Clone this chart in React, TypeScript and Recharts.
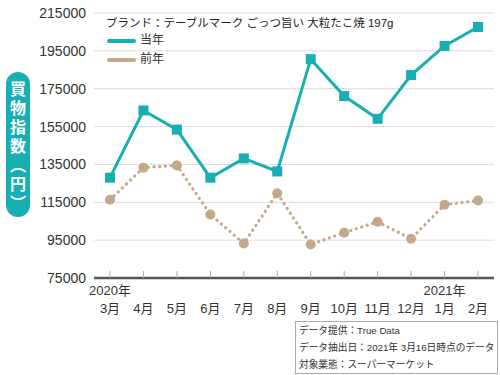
import React from "react";
import { LineChart, Line, XAxis, YAxis, CartesianGrid, Legend } from "recharts";

const months = ["3月", "4月", "5月", "6月", "7月", "8月", "9月", "10月", "11月", "12月", "1月", "2月"];
const yearLabels = ["2020年", "", "", "", "", "", "", "", "", "", "2021年", ""];
const currentYear = [128000, 163500, 153400, 128000, 138200, 131300, 190600, 171100, 159100, 182200, 197600, 207600];
const previousYear = [116300, 133300, 134500, 108500, 93250, 119800, 92700, 98900, 104700, 95700, 113700, 115900];
const yTicks = [75000, 95000, 115000, 135000, 155000, 175000, 195000, 215000];

const TEAL = "#17aeb4";
const TAN = "#c3a988";
const FONT = '"Liberation Sans", Arial, "Noto Sans CJK JP", sans-serif';

const data = months.map((m, i) => ({
  month: m,
  year: yearLabels[i],
  current: currentYear[i],
  previous: previousYear[i],
}));

const SquareDot = (props: any) => {
  const { cx, cy } = props;
  if (cx == null || cy == null) return null;
  return <rect x={cx - 5} y={cy - 5} width={10} height={10} fill={TEAL} />;
};

const MonthTick = (props: any) => {
  const { x, y, payload, index } = props;
  const year = yearLabels[index] || "";
  return (
    <g>
      <line x1={x} x2={x} y1={y - 7} y2={y} stroke="#aaa" strokeWidth={1} />
      {year && (
        <text x={x} y={y + 17} textAnchor="middle" fontSize={13} fill="#333" fontFamily={FONT}>
          {year}
        </text>
      )}
      <text x={x} y={y + 35} textAnchor="middle" fontSize={13} fill="#333" fontFamily={FONT}>
        {payload.value}
      </text>
    </g>
  );
};

const LegendBox = () => (
  <div style={{ fontFamily: FONT, fontSize: 12, color: "#333", lineHeight: "19px", textAlign: "left" }}>
    {[
      { label: "当年", color: TEAL },
      { label: "前年", color: TAN },
    ].map((item) => (
      <div key={item.label} style={{ display: "flex", alignItems: "center" }}>
        <span style={{ display: "inline-block", width: 29, height: 4, borderRadius: 2, background: item.color, marginRight: 4 }} />
        {item.label}
      </div>
    ))}
  </div>
);

export default function App() {
  return (
    <div style={{ position: "absolute", left: 0, top: 0, width: 500, height: 375, background: "#fff", fontFamily: FONT }}>
      <LineChart width={500} height={375} data={data} margin={{ top: 13, right: 6, bottom: 37, left: 0 }}>
        <CartesianGrid vertical={false} stroke="#dcdcdc" strokeWidth={1} />
        <XAxis
          dataKey="month"
          height={60}
          padding={{ left: 16, right: 16 }}
          tick={<MonthTick />}
          tickLine={false}
          tickSize={0}
          tickMargin={0}
          axisLine={{ stroke: "#555", strokeWidth: 2.5 }}
          interval={0}
        />
        <YAxis
          width={94}
          domain={[75000, 215000]}
          ticks={yTicks}
          tickLine={false}
          axisLine={false}
          tickSize={6}
          tickMargin={2}
          tick={{ fontSize: 14, fill: "#333", fontFamily: FONT }}
        />
        <Legend
          layout="horizontal"
          verticalAlign="middle"
          align="center"
          content={<LegendBox />}
          wrapperStyle={{ position: "absolute", left: 107, top: 31, width: 80, height: 38 }}
        />
        <Line
          dataKey="previous"
          stroke={TAN}
          strokeWidth={3.2}
          strokeDasharray="0.1 5.6"
          strokeLinecap="round"
          dot={{ r: 5, fill: TAN, stroke: "none" }}
          isAnimationActive={false}
        />
        <Line
          dataKey="current"
          stroke={TEAL}
          strokeWidth={3}
          dot={<SquareDot />}
          isAnimationActive={false}
        />
      </LineChart>
      <div style={{ position: "absolute", left: 106, top: 14, fontSize: 11.5, color: "#222", whiteSpace: "nowrap" }}>
        ブランド：テーブルマーク ごっつ旨い 大粒たこ焼 197g
      </div>
      <div
        style={{
          position: "absolute",
          left: 6,
          top: 72,
          width: 24,
          height: 145,
          borderRadius: 12,
          background: TEAL,
          color: "#fff",
          fontWeight: "bold",
          fontSize: 16,
          fontFamily: '"Noto Sans CJK JP", sans-serif',
          writingMode: "vertical-rl",
          display: "flex",
          alignItems: "center",
          justifyContent: "center",
          letterSpacing: 3,
          paddingTop: 6,
          boxSizing: "border-box",
        }}
      >
        買物指数（円）
      </div>
      <div
        style={{
          position: "absolute",
          left: 295,
          top: 321,
          width: 203,
          height: 53,
          border: "1px solid #aaa",
          boxSizing: "border-box",
          fontSize: 9.7,
          color: "#333",
          lineHeight: "17px",
          paddingLeft: 3,
          whiteSpace: "nowrap",
        }}
      >
        <div>データ提供：True Data</div>
        <div>データ抽出日：2021年 3月16日時点のデータ</div>
        <div>対象業態：スーパーマーケット</div>
      </div>
    </div>
  );
}
